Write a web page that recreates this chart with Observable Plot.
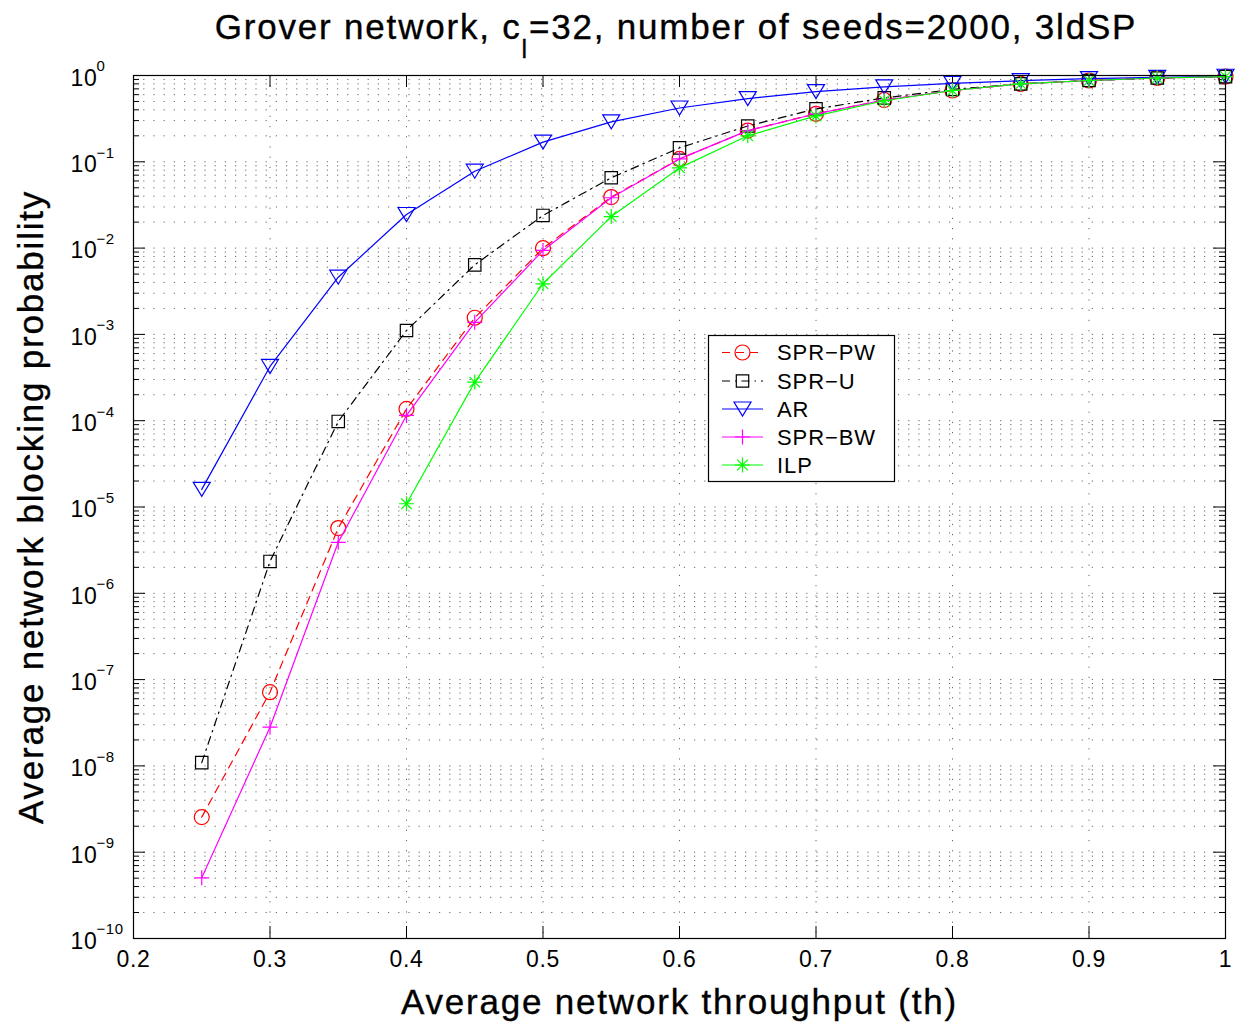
<!DOCTYPE html>
<html><head><meta charset="utf-8">
<script src="https://cdn.jsdelivr.net/npm/d3@7"></script>
<script src="https://cdn.jsdelivr.net/npm/@observablehq/plot@0.6"></script>
<style>
html,body{margin:0;padding:0;background:#fff;overflow:hidden;}
#chart svg{display:block;}
</style></head><body><div id="chart"></div>
<script>
// ---- data ----
const throughput = [0.25,0.3,0.35,0.4,0.45,0.5,0.55,0.6,0.65,0.7,0.75,0.8,0.85,0.9,0.95,1.0];
const ilpThroughput = [0.4,0.45,0.5,0.55,0.6,0.65,0.7,0.75,0.8,0.85,0.9,0.95,1.0];
const sprPW = [2.55e-9,7.15e-8,5.7e-6,1.37e-4,1.56e-3,9.97e-3,0.039,0.108,0.23,0.36,0.52,0.67,0.80,0.875,0.935,0.97];
const sprU  = [1.09e-8,2.34e-6,9.8e-5,1.11e-3,6.4e-3,2.39e-2,0.0653,0.145,0.26,0.41,0.55,0.69,0.80,0.875,0.935,0.97];
const ar    = [1.6e-5,4.25e-4,4.6e-3,2.45e-2,7.78e-2,0.169,0.29,0.42,0.54,0.65,0.74,0.81,0.87,0.92,0.95,0.98];
const sprBW = [5.05e-10,2.81e-8,3.9e-6,1.15e-4,1.38e-3,9.4e-3,0.0383,0.108,0.23,0.36,0.52,0.67,0.80,0.875,0.935,0.97];
const ilp   = [1.09e-5,2.8e-4,3.86e-3,0.0232,0.085,0.20,0.34,0.51,0.67,0.80,0.875,0.935,0.97];
const seriesNames = ["SPR−PW","SPR−U","AR","SPR−BW","ILP"];
const xTicks = [0.2,0.3,0.4,0.5,0.6,0.7,0.8,0.9,1];
const xTickLabels = ["0.2","0.3","0.4","0.5","0.6","0.7","0.8","0.9","1"];
const yDecades = [1,1e-1,1e-2,1e-3,1e-4,1e-5,1e-6,1e-7,1e-8,1e-9,1e-10];
const yExponents = ["0","−1","−2","−3","−4","−5","−6","−7","−8","−9","−10"];
const titleText = ["Grover network, c", "l", "=32, number of seeds=2000, 3ldSP"];
const xLabel = "Average network throughput (th)";
const yLabel = "Average network blocking probability";

// ---- marker shapes ----
const circleSym = {draw(c){c.moveTo(7.5,0);c.arc(0,0,7.5,0,2*Math.PI);}};
const squareSym = {draw(c){c.rect(-6.2,-6.2,12.4,12.4);}};
const triDownSym = {draw(c){c.moveTo(-8.5,-7);c.lineTo(8.5,-7);c.lineTo(0,7);c.closePath();}};
const plusSym = {draw(c){c.moveTo(-7.5,0);c.lineTo(7.5,0);c.moveTo(0,-7.5);c.lineTo(0,7.5);}};
const starSym = {draw(c){c.moveTo(-7.5,0);c.lineTo(7.5,0);c.moveTo(0,-7.5);c.lineTo(0,7.5);
  c.moveTo(-5.3,-5.3);c.lineTo(5.3,5.3);c.moveTo(-5.3,5.3);c.lineTo(5.3,-5.3);}};

const styles = [
  {name: seriesNames[0], xs: throughput, ys: sprPW, color: "#ff0000", dash: "8,6", sym: circleSym},
  {name: seriesNames[1], xs: throughput, ys: sprU, color: "#000000", dash: "8,5,1.5,5", sym: squareSym},
  {name: seriesNames[2], xs: throughput, ys: ar, color: "#0000ff", dash: null, sym: triDownSym},
  {name: seriesNames[3], xs: throughput, ys: sprBW, color: "#ff00ff", dash: null, sym: plusSym},
  {name: seriesNames[4], xs: ilpThroughput, ys: ilp, color: "#00ff00", dash: null, sym: starSym}
];

const W = 1239, H = 1028, mL = 133, mR = 14, mT = 75, mB = 90;
const fw = W - mL - mR, fh = H - mT - mB;

const yGrid = [];
for (let e = -10; e < 0; e++) for (let m = 1; m <= 9; m++) yGrid.push(m * Math.pow(10, e));
yGrid.push(1);
const yMinor = yGrid.filter(v => !yDecades.some(d => Math.abs(v / d - 1) < 1e-9));

const marks = [
  Plot.ruleY(yGrid, {stroke: "#000", strokeOpacity: 0.6, strokeDasharray: "1.2,9"}),
  Plot.ruleX(xTicks.slice(1, -1), {stroke: "#000", strokeOpacity: 0.6, strokeDasharray: "1.2,9"}),
  Plot.ruleY(yDecades, {stroke: "#000", insetRight: fw - 12}),
  Plot.ruleY(yDecades, {stroke: "#000", insetLeft: fw - 12}),
  Plot.ruleY(yMinor, {stroke: "#000", insetRight: fw - 6}),
  Plot.ruleY(yMinor, {stroke: "#000", insetLeft: fw - 6}),
  Plot.ruleX(xTicks, {stroke: "#000", insetTop: fh - 12}),
  Plot.ruleX(xTicks, {stroke: "#000", insetBottom: fh - 12}),
];
for (const s of styles) {
  const rows = s.xs.map((x, i) => ({x, y: s.ys[i]}));
  marks.push(Plot.line(rows, {x: "x", y: "y", stroke: s.color, strokeWidth: 1.2, strokeDasharray: s.dash || undefined}));
  marks.push(Plot.dot(rows, {x: "x", y: "y", symbol: s.sym, r: 5, stroke: s.color, fill: "none", strokeWidth: 1.2}));
}
marks.push(
  Plot.frame({stroke: "#000", strokeWidth: 1.2}),
  Plot.text(xTicks, {x: d => d, frameAnchor: "bottom", lineAnchor: "middle", textAnchor: "middle", dy: 21, text: (d, i) => xTickLabels[i], fontSize: 23, fill: "#000"}),
  Plot.text(yDecades, {y: d => d, frameAnchor: "left", lineAnchor: "middle", dx: -63, dy: 3, text: () => "10", textAnchor: "start", fontSize: 23, fill: "#000"}),
  Plot.text(yDecades, {y: d => d, frameAnchor: "left", lineAnchor: "middle", dx: -37, dy: -9, text: (d, i) => yExponents[i], textAnchor: "start", fontSize: 15, fill: "#000"}),
  Plot.text([xLabel], {frameAnchor: "bottom", lineAnchor: "middle", textAnchor: "middle", dy: 64, text: d => d, fontSize: 35, fill: "#000"}),
  Plot.text([yLabel], {frameAnchor: "left", lineAnchor: "middle", textAnchor: "middle", dx: -102, rotate: -90, text: d => d, fontSize: 35, fill: "#000"})
);

const chart = Plot.plot({
  width: W, height: H,
  marginLeft: mL, marginRight: mR, marginTop: mT, marginBottom: mB,
  style: "font-family: 'Liberation Sans', Arial, Helvetica, sans-serif; background: #fff; overflow: visible;",
  x: {domain: [0.2, 1], axis: null},
  y: {type: "log", domain: [1e-10, 1], axis: null},
  marks
});
document.getElementById("chart").appendChild(chart);

const svg = d3.select(chart);
// letter spacing / weight to match the reference's wide, heavy glyphs
svg.selectAll("text").each(function() {
  const txt = this.textContent;
  if (txt === xLabel || txt === yLabel) {
    this.style.letterSpacing = "1.8px";
    this.style.stroke = "#000"; this.style.strokeWidth = "0.35px";
  } else this.style.letterSpacing = "0.6px";
});
// title
const t = svg.append("text").attr("x", 676).attr("y", 39).attr("text-anchor", "middle")
  .attr("font-size", 35).attr("fill", "#000").attr("stroke", "#000").attr("stroke-width", 0.35)
  .style("letter-spacing", "1.8px");
t.append("tspan").text(titleText[0]);
t.append("tspan").attr("font-size", 25).attr("dy", 19).text(titleText[1]);
t.append("tspan").attr("dy", -19).text(titleText[2]);

// legend
const lg = svg.append("g");
lg.append("rect").attr("x", 708.5).attr("y", 335.5).attr("width", 186).attr("height", 146)
  .attr("fill", "#fff").attr("stroke", "#000").attr("stroke-width", 1.2);
const rowY = [352.5, 381, 409, 437, 465];
styles.forEach((s, i) => {
  const y = rowY[i];
  lg.append("line").attr("x1", 722).attr("x2", 763).attr("y1", y).attr("y2", y)
    .attr("stroke", s.color).attr("stroke-width", 1.2).attr("stroke-dasharray", s.dash);
  const p = d3.path(); s.sym.draw(p, 0);
  lg.append("path").attr("d", p.toString()).attr("transform", `translate(742.5,${y})`)
    .attr("fill", "none").attr("stroke", s.color).attr("stroke-width", 1.2);
  lg.append("text").attr("x", 777).attr("y", y).attr("dy", "0.35em").attr("font-size", 22)
    .attr("text-anchor", "start").attr("fill", "#000").style("letter-spacing", "0.9px").text(s.name);
});
</script></body></html>
